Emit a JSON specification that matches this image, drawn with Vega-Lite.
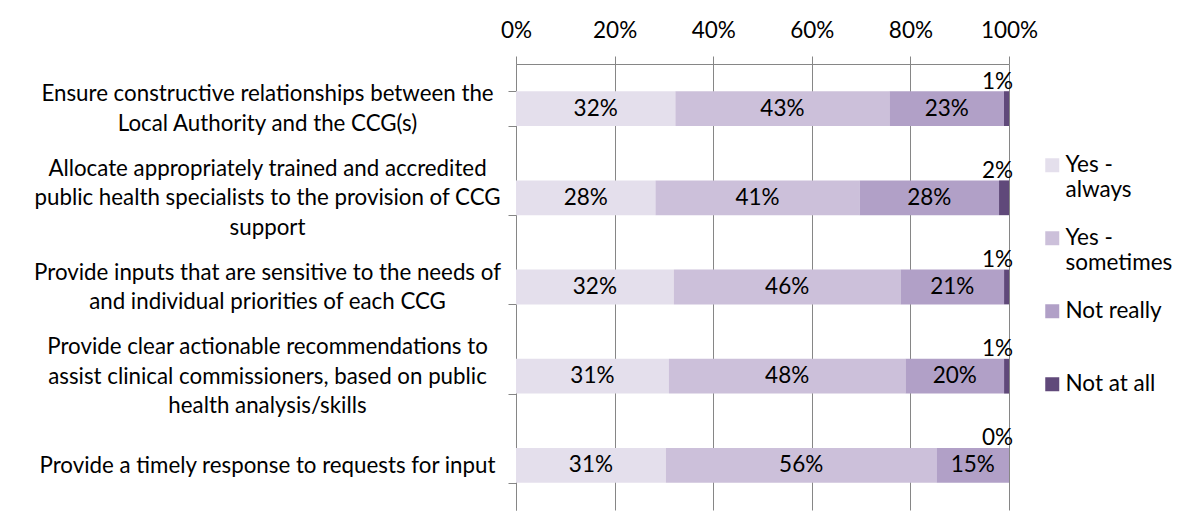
{
  "$schema": "https://vega.github.io/schema/vega-lite/v6.json",
  "width": 493,
  "height": 446,
  "autosize": {"type": "none"},
  "padding": {"left": 516, "top": 64, "right": 187, "bottom": 10},
  "background": "white",
  "config": {"view": {"stroke": null}, "font": "Lato"},
  "data": {
    "values": [
      {"question": "Ensure constructive relationships between the|Local Authority and the CCG(s)", "response": "Yes - always", "order": 1, "pct": 0.32},
      {"question": "Ensure constructive relationships between the|Local Authority and the CCG(s)", "response": "Yes - sometimes", "order": 2, "pct": 0.43},
      {"question": "Ensure constructive relationships between the|Local Authority and the CCG(s)", "response": "Not really", "order": 3, "pct": 0.23},
      {"question": "Ensure constructive relationships between the|Local Authority and the CCG(s)", "response": "Not at all", "order": 4, "pct": 0.01},
      {"question": "Allocate appropriately trained and accredited|public health specialists to the provision of CCG|support", "response": "Yes - always", "order": 1, "pct": 0.28},
      {"question": "Allocate appropriately trained and accredited|public health specialists to the provision of CCG|support", "response": "Yes - sometimes", "order": 2, "pct": 0.41},
      {"question": "Allocate appropriately trained and accredited|public health specialists to the provision of CCG|support", "response": "Not really", "order": 3, "pct": 0.28},
      {"question": "Allocate appropriately trained and accredited|public health specialists to the provision of CCG|support", "response": "Not at all", "order": 4, "pct": 0.02},
      {"question": "Provide inputs that are sensitive to the needs of|and individual priorities of each CCG", "response": "Yes - always", "order": 1, "pct": 0.32},
      {"question": "Provide inputs that are sensitive to the needs of|and individual priorities of each CCG", "response": "Yes - sometimes", "order": 2, "pct": 0.46},
      {"question": "Provide inputs that are sensitive to the needs of|and individual priorities of each CCG", "response": "Not really", "order": 3, "pct": 0.21},
      {"question": "Provide inputs that are sensitive to the needs of|and individual priorities of each CCG", "response": "Not at all", "order": 4, "pct": 0.01},
      {"question": "Provide clear actionable recommendations to|assist clinical commissioners, based on public|health analysis/skills", "response": "Yes - always", "order": 1, "pct": 0.31},
      {"question": "Provide clear actionable recommendations to|assist clinical commissioners, based on public|health analysis/skills", "response": "Yes - sometimes", "order": 2, "pct": 0.48},
      {"question": "Provide clear actionable recommendations to|assist clinical commissioners, based on public|health analysis/skills", "response": "Not really", "order": 3, "pct": 0.20},
      {"question": "Provide clear actionable recommendations to|assist clinical commissioners, based on public|health analysis/skills", "response": "Not at all", "order": 4, "pct": 0.01},
      {"question": "Provide a timely response to requests for input", "response": "Yes - always", "order": 1, "pct": 0.31},
      {"question": "Provide a timely response to requests for input", "response": "Yes - sometimes", "order": 2, "pct": 0.56},
      {"question": "Provide a timely response to requests for input", "response": "Not really", "order": 3, "pct": 0.15},
      {"question": "Provide a timely response to requests for input", "response": "Not at all", "order": 4, "pct": 0.0}
    ]
  },
  "transform": [
    {"stack": "pct", "groupby": ["question"], "sort": [{"field": "order", "order": "ascending"}], "as": ["x0", "x1"], "offset": "normalize"},
    {"calculate": "(datum.x0 + datum.x1) / 2", "as": "xm"}
  ],
  "encoding": {
    "y": {
      "field": "question",
      "type": "nominal",
      "sort": null,
      "scale": {"paddingInner": 0.61, "paddingOuter": 0.305},
      "axis": {
        "title": null,
        "orient": "left",
        "domainColor": "#868686",
        "tickColor": "#868686",
        "tickSize": 8,
        "tickBand": "extent",
        "grid": false,
        "labelAlign": "center",
        "labelBaseline": "middle",
        "labelPadding": 241,
        "labelLineHeight": 29.5,
        "labelFont": "Lato",
        "labelFontSize": 22.3,
        "labelColor": "#000000",
        "labelLimit": 700,
        "labelOffset": {
          "condition": [
            {"test": "isString(datum.value) && length(split(datum.value, '|')) == 3", "value": -29.5},
            {"test": "isString(datum.value) && length(split(datum.value, '|')) == 2", "value": -14.75}
          ],
          "value": 0
        },
        "labelExpr": "isString(datum.value) ? split(datum.value, '|') : ''"
      }
    }
  },
  "layer": [
    {
      "mark": {"type": "bar"},
      "encoding": {
        "x": {
          "field": "x0",
          "type": "quantitative",
          "scale": {"domain": [0, 1], "nice": false},
          "axis": {
            "title": null,
            "orient": "top",
            "format": ".0%",
            "values": [0, 0.2, 0.4, 0.6, 0.8, 1],
            "domainColor": "#868686",
            "tickColor": "#868686",
            "tickSize": 8,
            "grid": true,
            "gridColor": "#868686",
            "gridOpacity": 1,
            "labelFont": "Lato",
            "labelFontSize": 22.5,
            "labelColor": "#000000",
            "labelPadding": 19,
            "labelBaseline": "alphabetic",
            "labelFlush": false
          }
        },
        "x2": {"field": "x1"},
        "color": {
          "field": "response",
          "type": "nominal",
          "scale": {
            "domain": ["Yes - always", "Yes - sometimes", "Not really", "Not at all"],
            "range": ["#E4DFEC", "#CCC0DA", "#B1A0C7", "#60497A"]
          },
          "legend": {
            "title": null,
            "orient": "none",
            "legendX": 525,
            "legendY": 90,
            "padding": 0,
            "symbolType": "square",
            "symbolSize": 196,
            "symbolStrokeWidth": 0,
            "labelFont": "Lato",
            "labelFontSize": 22.5,
            "labelColor": "#000000",
            "labelOffset": 2,
            "labelBaseline": "middle",
            "labelLineHeight": 29.5,
            "labelLimit": 300,
            "rowPadding": 25,
            "labelExpr": "datum.label == 'Yes - always' ? ['Yes -', 'always'] : datum.label == 'Yes - sometimes' ? ['Yes -', 'sometimes'] : [datum.label, '']"
          }
        }
      }
    },
    {
      "transform": [{"filter": "datum.response != 'Not at all'"}],
      "mark": {"type": "text", "align": "center", "baseline": "middle", "font": "Lato", "fontSize": 22.5, "color": "#000000"},
      "encoding": {
        "x": {"field": "xm", "type": "quantitative"},
        "text": {"field": "pct", "type": "quantitative", "format": ".0%"}
      }
    },
    {
      "transform": [{"filter": "datum.response == 'Not at all'"}],
      "mark": {"type": "text", "align": "right", "baseline": "alphabetic", "dx": 4, "dy": -20, "font": "Lato", "fontSize": 22.5, "color": "#000000"},
      "encoding": {
        "x": {"field": "x1", "type": "quantitative"},
        "text": {"field": "pct", "type": "quantitative", "format": ".0%"}
      }
    }
  ]
}
